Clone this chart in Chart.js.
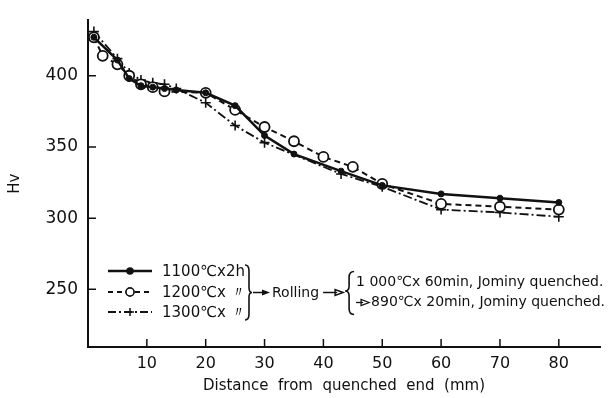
<!DOCTYPE html>
<html>
<head>
<meta charset="utf-8">
<script src="https://cdn.jsdelivr.net/npm/chart.js@4.4.1/dist/chart.umd.min.js"></script>
<style>
  html, body { margin: 0; padding: 0; background: #fff; }
  #wrap { width: 616px; height: 398px; }
</style>
</head>
<body>
<div id="wrap"><canvas id="hvChart" width="616" height="398"></canvas></div>
<script>
// Jominy hardness curves (Hv vs distance from quenched end)
const dist1100 = [1, 5, 7, 9, 11, 13, 15, 20, 25, 30, 35, 43, 50, 60, 70, 80];
const hv1100   = [427, 411, 398, 393, 392, 391, 390, 388, 379, 358, 345, 333, 323, 317, 314, 311];

const dist1200 = [1, 2.5, 5, 7, 9, 11, 13, 20, 25, 30, 35, 40, 45, 50, 60, 70, 80];
const hv1200   = [427, 414, 408, 400, 394, 392, 389, 388, 376, 364, 354, 343, 336, 324, 310, 308, 306];

const dist1300 = [1, 5, 7, 9, 11, 13, 15, 20, 25, 30, 43, 50, 60, 70, 80];
const hv1300   = [431, 412, 402, 397, 395, 394, 391, 381, 365, 353, 331, 322, 306, 304, 301];

const xTicks = [10, 20, 30, 40, 50, 60, 70, 80];
const yTicks = [250, 300, 350, 400];

const legendLabels = ["1100\u2103x2h", "1200\u2103x \u3003", "1300\u2103x \u3003"];
const routeLine1 = "1 000\u2103x 60min, Jominy quenched.";
const routeLine2 = "890\u2103x 20min, Jominy quenched.";

const INK = "#111";
const FONT = "'DejaVu Sans', sans-serif";

function pts(xs, ys) {
    return xs.map((x, i) => ({ x: x, y: ys[i] }));
}

// inward tick marks on both axes
const innerTicks = {
    id: "innerTicks",
    afterDraw(chart) {
        const ctx = chart.ctx;
        const xs = chart.scales.x, ys = chart.scales.y;
        const a = chart.chartArea;
        ctx.save();
        ctx.strokeStyle = INK;
        ctx.lineWidth = 1.5;
        ctx.beginPath();
        xTicks.forEach(v => {
            const p = xs.getPixelForValue(v);
            ctx.moveTo(p, a.bottom);
            ctx.lineTo(p, a.bottom - 8);
        });
        yTicks.forEach(v => {
            const p = ys.getPixelForValue(v);
            ctx.moveTo(a.left, p);
            ctx.lineTo(a.left + 8, p);
        });
        ctx.stroke();
        ctx.restore();
    }
};

function arrow(ctx, x1, x2, y, filled) {
    ctx.beginPath();
    ctx.moveTo(x1, y);
    ctx.lineTo(x2 - 6, y);
    ctx.stroke();
    ctx.beginPath();
    ctx.moveTo(x2, y);
    ctx.lineTo(x2 - 8, y - 3);
    ctx.lineTo(x2 - 8, y + 3);
    ctx.closePath();
    if (filled) {
        ctx.fill();
    } else {
        ctx.stroke();
    }
}

// font size that keeps a string inside the given width
function fitFont(ctx, text, width, size) {
    ctx.font = size + "px " + FONT;
    while (ctx.measureText(text).width > width && size > 9) {
        size -= 0.25;
        ctx.font = size + "px " + FONT;
    }
    return size;
}

// legend block with the process notes
const notes = {
    id: "notes",
    afterDraw(chart) {
        const ctx = chart.ctx;
        const a = chart.chartArea;
        const x0 = a.left + 20;
        const rows = [a.bottom - 76, a.bottom - 55, a.bottom - 35];
        const dashes = [[], [5, 4], [8, 3, 2, 3]];
        const ds = chart.data.datasets;

        ctx.save();
        ctx.strokeStyle = INK;
        ctx.fillStyle = INK;
        ctx.font = "15px " + FONT;
        ctx.textBaseline = "middle";

        rows.forEach((y, i) => {
            ctx.lineWidth = i === 0 ? 2.5 : 2;
            ctx.setLineDash(dashes[i]);
            ctx.beginPath();
            ctx.moveTo(x0, y);
            ctx.lineTo(x0 + 44, y);
            ctx.stroke();
            ctx.setLineDash([]);
            const d = ds[i];
            ctx.lineWidth = 1.5;
            Chart.helpers.drawPoint(ctx, {
                pointStyle: d.pointStyle,
                radius: i === 0 ? 3 : 4,
                borderWidth: 1.5
            }, x0 + 22, y);
            if (i === 1) {
                ctx.fillStyle = "#fff";
                ctx.beginPath();
                ctx.arc(x0 + 22, y, 4, 0, Math.PI * 2);
                ctx.fill();
                ctx.stroke();
                ctx.fillStyle = INK;
            }
            ctx.fillText(legendLabels[i], x0 + 54, y + 1);
        });

        // right brace grouping the three conditions
        const bx = x0 + 137;
        const top = rows[0] - 6, bot = rows[2] + 8, mid = (top + bot) / 2;
        ctx.lineWidth = 1.6;
        ctx.beginPath();
        ctx.moveTo(bx, top);
        ctx.quadraticCurveTo(bx + 4, top, bx + 4, top + 6);
        ctx.lineTo(bx + 4, mid - 5);
        ctx.quadraticCurveTo(bx + 4, mid, bx + 7, mid);
        ctx.quadraticCurveTo(bx + 4, mid, bx + 4, mid + 5);
        ctx.lineTo(bx + 4, bot - 6);
        ctx.quadraticCurveTo(bx + 4, bot, bx, bot);
        ctx.stroke();

        // -> Rolling ->
        ctx.lineWidth = 1.5;
        arrow(ctx, bx + 8, bx + 25, mid, true);
        ctx.font = "14px " + FONT;
        ctx.fillText("Rolling", bx + 27, mid + 1);
        const rw = ctx.measureText("Rolling").width;
        const ax = bx + 27 + rw + 4;
        arrow(ctx, ax, ax + 20, mid, false);

        // left brace with the two quench treatments
        const lx = ax + 25;
        const t2 = mid - 21, b2 = mid + 22, m2 = (t2 + b2) / 2 - 2;
        ctx.lineWidth = 1.6;
        ctx.beginPath();
        ctx.moveTo(lx + 6, t2);
        ctx.quadraticCurveTo(lx + 1, t2, lx + 1, t2 + 6);
        ctx.lineTo(lx + 1, m2 - 5);
        ctx.quadraticCurveTo(lx + 1, m2, lx - 3, m2);
        ctx.quadraticCurveTo(lx + 1, m2, lx + 1, m2 + 5);
        ctx.lineTo(lx + 1, b2 - 6);
        ctx.quadraticCurveTo(lx + 1, b2, lx + 6, b2);
        ctx.stroke();

        const tx = lx + 8;
        const size = fitFont(ctx, routeLine1, chart.width - 3 - tx, 14);
        ctx.fillText(routeLine1, tx, mid - 10);
        ctx.lineWidth = 1.3;
        arrow(ctx, tx, tx + 13, mid + 10, false);
        ctx.font = size + "px " + FONT;
        ctx.fillText(routeLine2, tx + 15, mid + 10);
        ctx.restore();
    }
};

new Chart(document.getElementById("hvChart"), {
    type: "line",
    data: {
        datasets: [
            {
                label: legendLabels[0],
                data: pts(dist1100, hv1100),
                borderColor: INK,
                backgroundColor: INK,
                borderWidth: 2.5,
                pointStyle: "circle",
                pointRadius: 3,
                pointBorderWidth: 1,
                tension: 0
            },
            {
                label: legendLabels[1],
                data: pts(dist1200, hv1200),
                borderColor: INK,
                backgroundColor: "#fff",
                borderWidth: 2,
                borderDash: [6, 4],
                pointStyle: "circle",
                pointRadius: 5,
                pointBorderWidth: 1.8,
                tension: 0
            },
            {
                label: legendLabels[2],
                data: pts(dist1300, hv1300),
                borderColor: INK,
                backgroundColor: INK,
                borderWidth: 1.8,
                borderDash: [9, 3, 2, 3],
                pointStyle: "cross",
                pointRadius: 5,
                pointBorderWidth: 1.6,
                tension: 0
            }
        ]
    },
    options: {
        responsive: false,
        animation: false,
        devicePixelRatio: 1,
        layout: { padding: { top: 14, right: 16, left: 0, bottom: 0 } },
        plugins: {
            legend: { display: false },
            tooltip: { enabled: false }
        },
        scales: {
            x: {
                type: "linear",
                min: 0,
                max: 87,
                grid: { display: false, drawTicks: false },
                border: { display: true, color: INK, width: 2 },
                afterBuildTicks: s => { s.ticks = xTicks.map(v => ({ value: v })); },
                afterFit: s => { s.height = 51; },
                ticks: {
                    color: INK,
                    padding: 7,
                    maxRotation: 0,
                    font: { family: FONT, size: 16 }
                },
                title: {
                    display: true,
                    text: "Distance  from  quenched  end  (mm)",
                    color: INK,
                    padding: { top: 0, bottom: 3 },
                    font: { family: FONT, size: 15 }
                }
            },
            y: {
                type: "linear",
                min: 209.5,
                max: 439,
                grid: { display: false, drawTicks: false },
                border: { display: true, color: INK, width: 2 },
                afterBuildTicks: s => { s.ticks = yTicks.map(v => ({ value: v })); },
                afterFit: s => { s.width = 88; },
                ticks: {
                    color: INK,
                    padding: 10,
                    font: { family: FONT, size: 17 }
                },
                title: {
                    display: true,
                    text: "Hv",
                    color: INK,
                    padding: { top: 6, bottom: 0 },
                    font: { family: FONT, size: 15 }
                }
            }
        }
    },
    plugins: [innerTicks, notes]
});
</script>
</body>
</html>
